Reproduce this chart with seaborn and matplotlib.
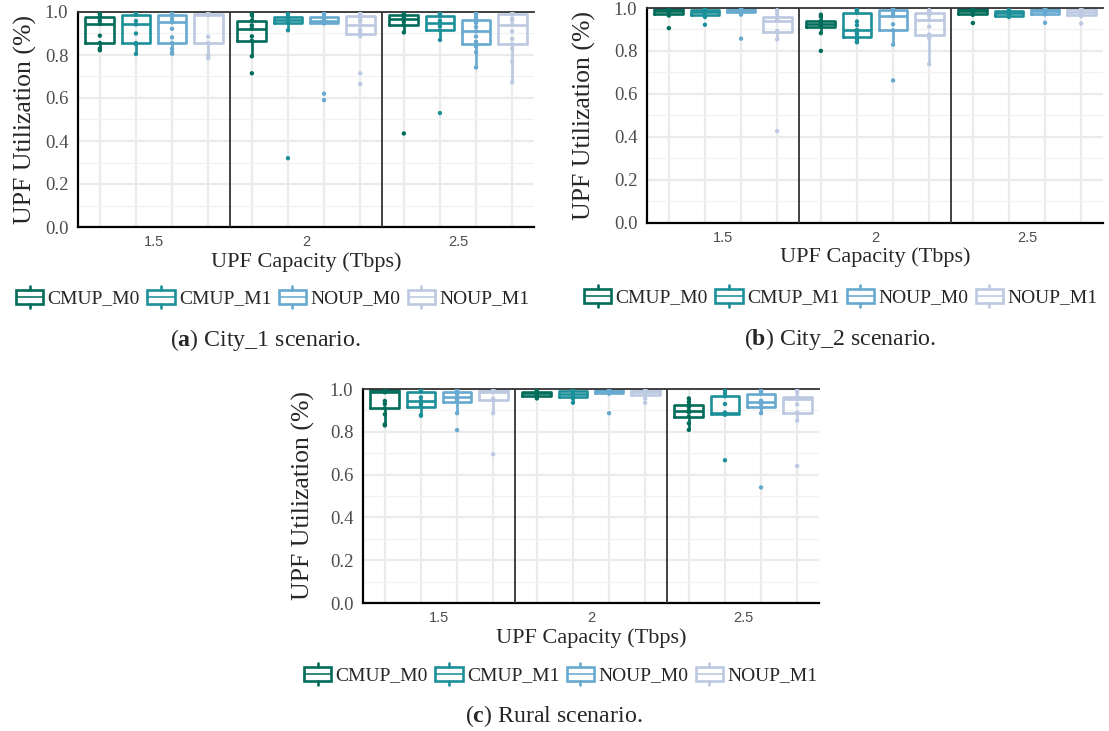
import numpy as np
import pandas as pd
import matplotlib
matplotlib.use("Agg")
import matplotlib.pyplot as plt
import seaborn as sns
from matplotlib.legend_handler import HandlerBase
from matplotlib.patches import Rectangle
from matplotlib.lines import Line2D

# ---------------------------------------------------------------------------
# Data: UPF utilisation samples per method, one inner list per capacity
# ---------------------------------------------------------------------------
capacities = ["1.5", "2", "2.5"]
methods = ["CMUP_M0", "CMUP_M1", "NOUP_M0", "NOUP_M1"]
palette = ["#016c59", "#1c9099", "#67a9cf", "#bdc9e1"]

# City_1 scenario
city1_cmup_m0 = [
    [0.822, 0.830, 0.856, 0.890, 0.945, 0.960, 0.976, 0.990, 0.995],
    [0.715, 0.794, 0.867, 0.887, 0.923, 0.938, 0.960, 0.985, 0.996],
    [0.435, 0.905, 0.940, 0.955, 0.968, 0.975, 0.985, 0.992, 0.998],
]
city1_cmup_m1 = [
    [0.805, 0.850, 0.856, 0.900, 0.942, 0.958, 0.988, 0.995, 0.998],
    [0.320, 0.915, 0.950, 0.955, 0.962, 0.970, 0.978, 0.990, 0.995],
    [0.530, 0.870, 0.915, 0.933, 0.948, 0.960, 0.980, 0.990, 0.995],
]
city1_noup_m0 = [
    [0.806, 0.812, 0.829, 0.856, 0.882, 0.922, 0.952, 0.965, 0.980, 0.988, 0.992, 0.995, 0.998],
    [0.590, 0.620, 0.947, 0.952, 0.960, 0.968, 0.978, 0.990, 0.995],
    [0.742, 0.813, 0.840, 0.851, 0.862, 0.886, 0.910, 0.930, 0.949, 0.962, 0.975, 0.990, 0.996],
]
city1_noup_m1 = [
    [0.785, 0.800, 0.856, 0.885, 0.985, 0.988, 0.992, 0.995, 0.998],
    [0.665, 0.715, 0.887, 0.898, 0.910, 0.918, 0.938, 0.955, 0.965, 0.980, 0.985, 0.990, 0.995],
    [0.673, 0.770, 0.830, 0.851, 0.875, 0.910, 0.940, 0.960, 0.970, 0.990, 0.993, 0.996, 0.998],
]

# City_2 scenario
city2_cmup_m0 = [
    [0.906, 0.965, 0.970, 0.978, 0.985, 0.990, 0.995, 0.998, 1.000],
    [0.800, 0.883, 0.913, 0.920, 0.927, 0.932, 0.940, 0.960, 0.969],
    [0.930, 0.968, 0.973, 0.980, 0.985, 0.990, 0.995, 0.998, 1.000],
]
city2_cmup_m1 = [
    [0.922, 0.958, 0.966, 0.972, 0.980, 0.985, 0.990, 0.995, 0.998],
    [0.840, 0.844, 0.855, 0.865, 0.878, 0.885, 0.898, 0.920, 0.937, 0.977, 0.985, 0.990, 0.993],
    [0.958, 0.962, 0.964, 0.970, 0.975, 0.980, 0.984, 0.988, 0.992],
]
city2_noup_m0 = [
    [0.857, 0.969, 0.980, 0.985, 0.990, 0.993, 0.997, 0.998, 1.000],
    [0.662, 0.829, 0.896, 0.924, 0.963, 0.975, 0.990, 0.995, 0.998],
    [0.931, 0.970, 0.974, 0.980, 0.986, 0.990, 0.994, 0.997, 0.999],
]
city2_noup_m1 = [
    [0.426, 0.854, 0.887, 0.893, 0.940, 0.950, 0.958, 0.975, 0.990],
    [0.738, 0.860, 0.876, 0.913, 0.944, 0.965, 0.977, 0.985, 0.990],
    [0.928, 0.962, 0.969, 0.975, 0.980, 0.988, 0.995, 0.998, 1.000],
]

# Rural scenario
rural_cmup_m0 = [
    [0.830, 0.835, 0.882, 0.910, 0.930, 0.944, 0.985, 0.988, 0.990, 0.995, 0.997, 0.998, 1.000],
    [0.956, 0.962, 0.969, 0.975, 0.980, 0.984, 0.988, 0.992, 0.995],
    [0.809, 0.840, 0.871, 0.890, 0.899, 0.915, 0.925, 0.940, 0.956],
]
rural_cmup_m1 = [
    [0.875, 0.879, 0.918, 0.930, 0.945, 0.961, 0.988, 0.995, 0.998],
    [0.936, 0.955, 0.964, 0.970, 0.977, 0.985, 0.992, 0.996, 0.999],
    [0.667, 0.880, 0.882, 0.886, 0.890, 0.930, 0.966, 0.980, 0.995],
]
rural_noup_m0 = [
    [0.808, 0.887, 0.940, 0.950, 0.961, 0.975, 0.988, 0.995, 0.998],
    [0.887, 0.978, 0.983, 0.987, 0.990, 0.993, 0.995, 0.998, 1.000],
    [0.540, 0.887, 0.914, 0.930, 0.941, 0.945, 0.977, 0.988, 0.995],
]
rural_noup_m1 = [
    [0.695, 0.887, 0.950, 0.955, 0.985, 0.990, 0.995, 0.998, 1.000],
    [0.935, 0.955, 0.972, 0.978, 0.985, 0.990, 0.995, 0.998, 1.000],
    [0.640, 0.852, 0.890, 0.928, 0.953, 0.958, 0.964, 0.985, 0.995],
]

GROUP_WIDTH = 0.95
LINE_W = 1.9


def long_frame(series):
    rows = []
    for method, per_cap in zip(methods, series):
        for cap, values in zip(capacities, per_cap):
            for v in values:
                rows.append((cap, method, v))
    return pd.DataFrame(rows, columns=["capacity", "method", "utilization"])


def dodge_offsets():
    n = len(methods)
    each = GROUP_WIDTH / n
    offs = np.linspace(0, GROUP_WIDTH - each, n)
    return offs - offs.mean()


class BoxKeyHandler(HandlerBase):
    """Legend key drawn as a small box with median and whisker stubs."""

    def create_artists(self, legend, orig_handle, xdescent, ydescent,
                       width, height, fontsize, trans):
        color = orig_handle.get_color()
        x0, y0 = -xdescent, -ydescent
        box_h = height * 0.6
        by = y0 + (height - box_h) / 2
        cx = x0 + width / 2
        rect = Rectangle((x0 + 1, by), width - 2, box_h, fill=False,
                         edgecolor=color, lw=LINE_W, transform=trans)
        med = Line2D([x0 + 1, x0 + width - 1], [by + box_h / 2] * 2,
                     color=color, lw=LINE_W * 0.6, transform=trans)
        top = Line2D([cx, cx], [by + box_h, y0 + height], color=color,
                     lw=LINE_W, transform=trans)
        bot = Line2D([cx, cx], [y0, by], color=color, lw=LINE_W,
                     transform=trans)
        return [rect, med, top, bot]


sns.set_style("white")
plt.rcParams["font.family"] = ["Liberation Serif", "DejaVu Serif"]
plt.rcParams["mathtext.fontset"] = "custom"
plt.rcParams["mathtext.rm"] = "Liberation Serif"
plt.rcParams["mathtext.bf"] = "Liberation Serif:bold"

W, H = 1109, 731
fig = plt.figure(figsize=(W / 100, H / 100), dpi=100)
fig.patch.set_facecolor("white")


def px_axes(left, top, right, bottom):
    return fig.add_axes([left / W, 1 - bottom / H, (right - left) / W,
                         (bottom - top) / H])


def draw_panel(ax, series, ylabel_dx, legend_xy, caption_xy, caption):
    df = long_frame(series)
    offs = dodge_offsets()
    cat_idx = {c: i for i, c in enumerate(capacities)}
    meth_off = {m: o for m, o in zip(methods, offs)}
    df["xpos"] = df["capacity"].map(cat_idx) + df["method"].map(meth_off)

    # background grid
    ax.set_ylim(0, 1)
    ax.set_yticks(np.arange(0, 1.01, 0.2))
    ax.set_yticks(np.arange(0.1, 1.0, 0.2), minor=True)
    ax.grid(axis="y", which="major", color="#ebebeb", lw=1.6, zorder=0)
    ax.grid(axis="y", which="minor", color="#f2f2f2", lw=0.9, zorder=0)
    ax.set_axisbelow(True)
    for i in range(len(capacities)):
        for o in offs:
            ax.axvline(i + o, color="#ebebeb", lw=1.6, zorder=0)

    sns.boxplot(data=df, x="capacity", y="utilization", hue="method",
                order=capacities, hue_order=methods, palette=palette,
                fill=False, width=GROUP_WIDTH, gap=0.2, linewidth=LINE_W,
                showfliers=False, showcaps=False, whis=1.5, legend=False,
                ax=ax)
    sns.scatterplot(data=df, x="xpos", y="utilization", hue="method",
                    hue_order=methods, palette=palette, s=10, linewidth=0,
                    legend=False, ax=ax, zorder=4)

    # group separators
    for b in np.arange(0.5, len(capacities) - 1, 1.0):
        ax.axvline(b, color="#333333", lw=1.3, zorder=5)

    ax.set_xlim(-0.5, len(capacities) - 0.5)
    ax.set_xticks(range(len(capacities)))
    ax.set_xticklabels(capacities, family="Liberation Sans", fontsize=10.5,
                       color="#4d4d4d")
    ax.tick_params(axis="x", length=0, pad=6)
    ax.tick_params(axis="y", which="major", length=5, width=1,
                   color="#333333", labelsize=13.5, labelcolor="#4d4d4d",
                   pad=2)
    ax.tick_params(axis="y", which="minor", length=0)

    for side in ("left", "bottom"):
        ax.spines[side].set_color("black")
        ax.spines[side].set_linewidth(1.6)
    ax.spines["top"].set_color("#333333")
    ax.spines["top"].set_linewidth(1.3)
    ax.spines["right"].set_visible(False)

    ax.set_xlabel("UPF Capacity (Tbps)", fontsize=16)
    ax.xaxis.set_label_coords(0.5, -35 / 215)
    ax.xaxis.label.set_verticalalignment("center")
    ax.set_ylabel("UPF Utilization (%)", fontsize=18.5)
    ax.yaxis.set_label_coords(ylabel_dx / 456, 0.5)
    ax.yaxis.label.set_verticalalignment("center")

    handles = [Line2D([], [], color=c) for c in palette]
    ax.legend(handles, methods, loc="center",
              bbox_to_anchor=(legend_xy[0] / W, 1 - legend_xy[1] / H),
              bbox_transform=fig.transFigure, ncol=4, frameon=False,
              fontsize=14, handlelength=1.55, handleheight=1.35,
              handletextpad=0.15, columnspacing=0.3,
              handler_map={Line2D: BoxKeyHandler()})
    fig.text(caption_xy[0] / W, 1 - caption_xy[1] / H, caption,
             ha="center", va="center", fontsize=17.2)


ax_a = px_axes(78, 12, 534, 227)
ax_b = px_axes(647, 8, 1103, 222.5)
ax_c = px_axes(363, 389, 819, 603)

draw_panel(ax_a, [city1_cmup_m0, city1_cmup_m1, city1_noup_m0, city1_noup_m1],
           -53, (272, 297), (265, 340), r"($\mathbf{a}$) City_1 scenario.")
draw_panel(ax_b, [city2_cmup_m0, city2_cmup_m1, city2_noup_m0, city2_noup_m1],
           -63, (840, 296), (840, 339), r"($\mathbf{b}$) City_2 scenario.")
draw_panel(ax_c, [rural_cmup_m0, rural_cmup_m1, rural_noup_m0, rural_noup_m1],
           -60, (560, 674), (554, 716), r"($\mathbf{c}$) Rural scenario.")

fig.savefig("out.png", dpi=100, facecolor="white")
